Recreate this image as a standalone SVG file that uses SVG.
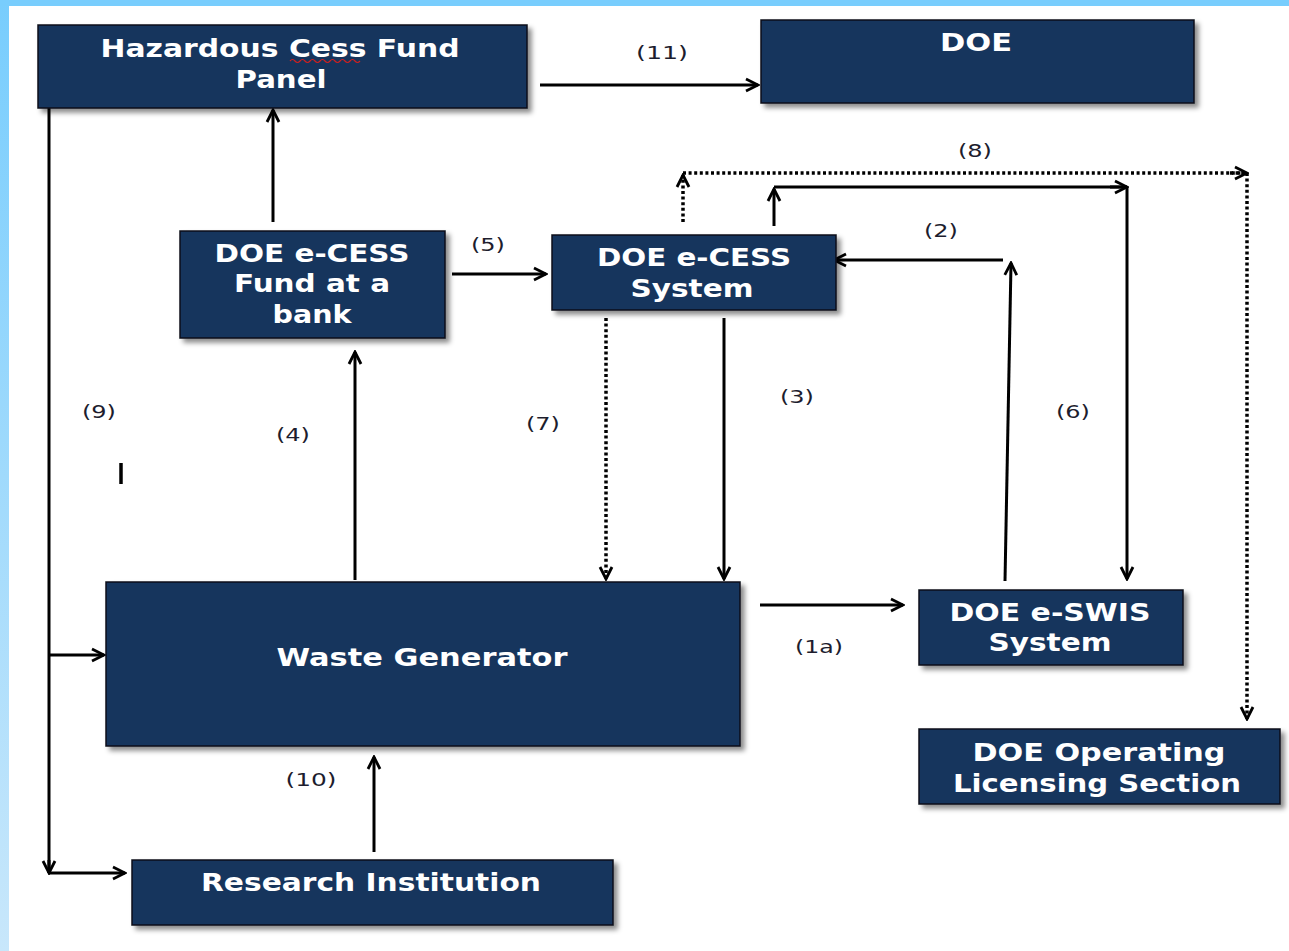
<svg xmlns="http://www.w3.org/2000/svg" width="1289" height="951" viewBox="0 0 1289 951">
<defs>
<linearGradient id="lb" x1="0" y1="0" x2="0" y2="1">
<stop offset="0" stop-color="#78cdfd"/>
<stop offset="1" stop-color="#c8e7fb"/>
</linearGradient>
<filter id="sh" x="-5%" y="-5%" width="115%" height="125%">
<feDropShadow dx="4" dy="4" stdDeviation="2.5" flood-color="#000" flood-opacity="0.45"/>
</filter>
<marker id="ah" viewBox="0 0 16 16" markerWidth="16" markerHeight="16" refX="14" refY="8" orient="auto" markerUnits="userSpaceOnUse">
<path d="M2,2 L14,8 L2,14" fill="none" stroke="#000" stroke-width="2.8"/>
</marker>
<style>
.box{fill:#17365d;stroke:#0b0f18;stroke-width:1.5;filter:url(#sh)}
.t{font-family:"DejaVu Sans","Verdana",sans-serif;font-weight:bold;font-size:25px;fill:#fff;text-anchor:middle}
.l{font-family:"DejaVu Sans","Verdana",sans-serif;font-size:17px;fill:#1d1d2e;text-anchor:middle}
.c{fill:none;stroke:#000;stroke-width:3}
.d{fill:none;stroke:#000;stroke-width:3.5;stroke-dasharray:3 2.6}
</style>
</defs>
<rect x="0" y="0" width="1289" height="951" fill="#fff"/>
<rect x="0" y="0" width="9" height="951" fill="url(#lb)"/>
<rect x="0" y="0" width="1289" height="6" fill="#78cdfd"/>

<g id="connectors">
<line class="c" x1="540" y1="85" x2="758" y2="85" marker-end="url(#ah)"/>
<polyline class="c" points="49,108 49,873"/>
<line class="c" x1="49" y1="860" x2="49" y2="873" marker-end="url(#ah)"/>
<line class="c" x1="49" y1="655" x2="104" y2="655" marker-end="url(#ah)"/>
<line class="c" x1="49" y1="873" x2="125" y2="873" marker-end="url(#ah)"/>
<line x1="121" y1="463" x2="121" y2="484" stroke="#000" stroke-width="3.5"/>
<line class="c" x1="273" y1="222" x2="273" y2="110" marker-end="url(#ah)"/>
<line class="c" x1="355" y1="580" x2="355" y2="352" marker-end="url(#ah)"/>
<line class="c" x1="452" y1="274" x2="546" y2="274" marker-end="url(#ah)"/>
<line class="d" x1="606" y1="318" x2="606" y2="579" marker-end="url(#ah)"/>
<line class="c" x1="724" y1="318" x2="724" y2="579" marker-end="url(#ah)"/>
<line class="d" x1="683" y1="222" x2="683" y2="175" marker-end="url(#ah)"/>
<polyline class="d" points="683,173 1247,173"/>
<line class="d" x1="1230" y1="173" x2="1247" y2="173" marker-end="url(#ah)"/>
<line class="d" x1="1247" y1="173" x2="1247" y2="719" marker-end="url(#ah)"/>
<line class="c" x1="774" y1="226" x2="774" y2="189" marker-end="url(#ah)"/>
<polyline class="c" points="774,187 1127,187"/>
<line class="c" x1="1110" y1="187" x2="1127" y2="187" marker-end="url(#ah)"/>
<line class="c" x1="1127" y1="187" x2="1127" y2="579" marker-end="url(#ah)"/>
<line class="c" x1="1005" y1="581" x2="1011" y2="263" marker-end="url(#ah)"/>
<line class="c" x1="1003" y1="260" x2="834" y2="260" marker-end="url(#ah)"/>
<line class="c" x1="760" y1="605" x2="903" y2="605" marker-end="url(#ah)"/>
<line class="c" x1="374" y1="852" x2="374" y2="757" marker-end="url(#ah)"/>
</g>

<g id="labels">
<text class="l" x="662" y="59" textLength="52" lengthAdjust="spacingAndGlyphs">(11)</text>
<text class="l" x="975" y="157" textLength="34" lengthAdjust="spacingAndGlyphs">(8)</text>
<text class="l" x="941" y="237" textLength="34" lengthAdjust="spacingAndGlyphs">(2)</text>
<text class="l" x="488" y="251" textLength="34" lengthAdjust="spacingAndGlyphs">(5)</text>
<text class="l" x="797" y="403" textLength="34" lengthAdjust="spacingAndGlyphs">(3)</text>
<text class="l" x="1073" y="418" textLength="34" lengthAdjust="spacingAndGlyphs">(6)</text>
<text class="l" x="543" y="430" textLength="34" lengthAdjust="spacingAndGlyphs">(7)</text>
<text class="l" x="293" y="441" textLength="34" lengthAdjust="spacingAndGlyphs">(4)</text>
<text class="l" x="99" y="418" textLength="34" lengthAdjust="spacingAndGlyphs">(9)</text>
<text class="l" x="819" y="653" textLength="48" lengthAdjust="spacingAndGlyphs">(1a)</text>
<text class="l" x="311" y="786" textLength="51" lengthAdjust="spacingAndGlyphs">(10)</text>
</g>

<g id="hazardous-cess-fund-panel">
<rect class="box" x="38" y="25" width="489" height="83"/>
<text class="t" x="280" y="57" textLength="359" lengthAdjust="spacingAndGlyphs">Hazardous Cess Fund</text>
<text class="t" x="281" y="88" textLength="91" lengthAdjust="spacingAndGlyphs">Panel</text>
<path d="M290,61 q2.5,-3 5,0 t5,0 t5,0 t5,0 t5,0 t5,0 t5,0 t5,0 t5,0 t5,0 t5,0 t5,0 t5,0 t5,0" fill="none" stroke="#d02020" stroke-width="1.2"/>
</g>

<g id="doe">
<rect class="box" x="761" y="20" width="433" height="83"/>
<text class="t" x="976" y="51" textLength="72" lengthAdjust="spacingAndGlyphs">DOE</text>
</g>

<g id="doe-ecess-fund-bank">
<rect class="box" x="180" y="231" width="265" height="107"/>
<text class="t" x="312" y="262" textLength="195" lengthAdjust="spacingAndGlyphs">DOE e-CESS</text>
<text class="t" x="312" y="292" textLength="156" lengthAdjust="spacingAndGlyphs">Fund at a</text>
<text class="t" x="312" y="323" textLength="79" lengthAdjust="spacingAndGlyphs">bank</text>
</g>

<g id="doe-ecess-system">
<rect class="box" x="552" y="235" width="284" height="75"/>
<text class="t" x="694" y="266" textLength="194" lengthAdjust="spacingAndGlyphs">DOE e-CESS</text>
<text class="t" x="692" y="297" textLength="123" lengthAdjust="spacingAndGlyphs">System</text>
</g>

<g id="waste-generator">
<rect class="box" x="106" y="582" width="634" height="164"/>
<text class="t" x="422" y="666" textLength="291" lengthAdjust="spacingAndGlyphs">Waste Generator</text>
</g>

<g id="doe-eswis-system">
<rect class="box" x="919" y="590" width="264" height="75"/>
<text class="t" x="1050" y="621" textLength="201" lengthAdjust="spacingAndGlyphs">DOE e-SWIS</text>
<text class="t" x="1050" y="651" textLength="123" lengthAdjust="spacingAndGlyphs">System</text>
</g>

<g id="doe-operating-licensing-section">
<rect class="box" x="919" y="729" width="361" height="75"/>
<text class="t" x="1099" y="761" textLength="253" lengthAdjust="spacingAndGlyphs">DOE Operating</text>
<text class="t" x="1097" y="792" textLength="288" lengthAdjust="spacingAndGlyphs">Licensing Section</text>
</g>

<g id="research-institution">
<rect class="box" x="132" y="860" width="481" height="65"/>
<text class="t" x="371" y="891" textLength="340" lengthAdjust="spacingAndGlyphs">Research Institution</text>
</g>
</svg>
